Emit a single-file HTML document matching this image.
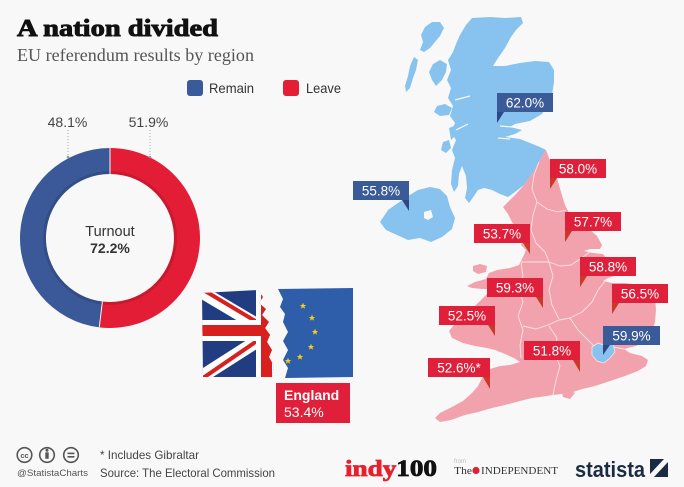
<!DOCTYPE html>
<html>
<head>
<meta charset="utf-8">
<style>
html,body{margin:0;padding:0;background:#f8f8f8;}
svg{display:block;}
</style>
</head>
<body>
<svg width="684" height="487" viewBox="0 0 684 487" xmlns="http://www.w3.org/2000/svg">
<rect width="684" height="487" fill="#f8f8f8"/>

<!-- Title -->
<text x="17" y="36" font-family="Liberation Serif, serif" font-weight="bold" font-size="24" fill="#111" stroke="#111" stroke-width="0.9" textLength="201" lengthAdjust="spacingAndGlyphs">A nation divided</text>
<text x="17" y="61" font-family="Liberation Serif, serif" font-size="17.5" fill="#555" textLength="237" lengthAdjust="spacingAndGlyphs">EU referendum results by region</text>

<!-- Legend -->
<rect x="187" y="80" width="16" height="16" rx="3" fill="#3b5a9a"/>
<text x="209" y="93" font-family="Liberation Sans, sans-serif" font-size="14" fill="#333" textLength="45" lengthAdjust="spacingAndGlyphs">Remain</text>
<rect x="283" y="80" width="16" height="16" rx="3" fill="#e31e36"/>
<text x="306" y="93" font-family="Liberation Sans, sans-serif" font-size="14" fill="#333" textLength="35" lengthAdjust="spacingAndGlyphs">Leave</text>

<!-- Donut -->
<path d="M110,148 A90,90 0 1,1 99.28,327.36 L102.38,301.55 A64,64 0 1,0 110,174 Z" fill="#e41d36"/>
<path d="M99.28,327.36 A90,90 0 0,1 110,148 L110,174 A64,64 0 0,0 102.38,301.55 Z" fill="#3b5999"/>
<circle cx="110" cy="238" r="65.5" fill="none" stroke="rgba(0,0,0,0.12)" stroke-width="3"/>
<circle cx="110" cy="238" r="63.5" fill="#f8f8f8"/>
<line x1="110" y1="148" x2="110" y2="174" stroke="#f8f8f8" stroke-width="1"/>
<line x1="99.28" y1="327.36" x2="102.38" y2="301.55" stroke="#f8f8f8" stroke-width="1"/>
<line x1="68" y1="130" x2="68" y2="157" stroke="#aaa" stroke-width="1" stroke-dasharray="1,2"/>
<line x1="150" y1="130" x2="150" y2="157" stroke="#aaa" stroke-width="1" stroke-dasharray="1,2"/>
<circle cx="68" cy="157" r="1.3" fill="#999"/>
<circle cx="150" cy="157" r="1.3" fill="#999"/>
<text x="67.5" y="127" text-anchor="middle" font-family="Liberation Sans, sans-serif" font-size="14" fill="#444">48.1%</text>
<text x="148.5" y="127" text-anchor="middle" font-family="Liberation Sans, sans-serif" font-size="14" fill="#444">51.9%</text>
<text x="110" y="236" text-anchor="middle" font-family="Liberation Sans, sans-serif" font-size="14.5" fill="#333">Turnout</text>
<text x="110" y="253" text-anchor="middle" font-family="Liberation Sans, sans-serif" font-size="14" font-weight="bold" fill="#333">72.2%</text>

<!-- Flags -->
<defs>
  <clipPath id="ukclip">
    <polygon points="202,293 258,290 263,297 259,303 266,309 262,315 269,322 265,328 270,335 267,342 272,350 269,357 274,366 272,377 203,377"/>
  </clipPath>
  <clipPath id="euclip">
    <polygon points="278,289 353,288 353,377 285,378 288,368 283,360 288,350 283,341 288,332 283,322 285,314 280,307 283,299"/>
  </clipPath>
  <polygon id="star" points="0,-3.2 0.95,-1 3.2,-1 1.4,0.4 2,2.7 0,1.3 -2,2.7 -1.4,0.4 -3.2,-1 -0.95,-1"/>
</defs>
<g clip-path="url(#ukclip)">
  <rect x="200" y="288" width="140" height="92" fill="#213c80"/>
  <line x1="190" y1="285" x2="345" y2="377" stroke="#fff" stroke-width="13"/>
  <line x1="190" y1="384" x2="345" y2="285" stroke="#fff" stroke-width="13"/>
  <line x1="190" y1="282" x2="267" y2="328" stroke="#d8201f" stroke-width="4"/>
  <line x1="190" y1="387" x2="267" y2="334" stroke="#d8201f" stroke-width="4"/>
  <rect x="200" y="320" width="140" height="21" fill="#fff"/>
  <rect x="256" y="288" width="21" height="92" fill="#fff"/>
  <rect x="200" y="325" width="140" height="11" fill="#d8201f"/>
  <rect x="261" y="288" width="11" height="92" fill="#d8201f"/>
</g>
<g clip-path="url(#euclip)">
  <rect x="276" y="286" width="80" height="94" fill="#2e5ea9"/>
</g>
<g fill="#f4cf12">
  <use href="#star" x="303" y="306"/>
  <use href="#star" x="312" y="318"/>
  <use href="#star" x="315" y="332"/>
  <use href="#star" x="311" y="347"/>
  <use href="#star" x="300" y="357"/>
  <use href="#star" x="288" y="361"/>
</g>
<rect x="276" y="383" width="74" height="40" fill="#e0203a"/>
<text x="284" y="400" font-family="Liberation Sans, sans-serif" font-size="14" font-weight="bold" fill="#fff">England</text>
<text x="284" y="417" font-family="Liberation Sans, sans-serif" font-size="14" fill="#fff">53.4%</text>

<!-- Map: Scotland -->
<g fill="#87c3ee">
  <path d="M466,25 L472,18 L490,17 L505,18 L521,17 L523,23 L516,30 L511,37 L505,48 L498,58 L493,66 L505,66 L520,63 L535,61 L549,62 L554,70 L554,82 L552,95 L548,105 L542,114 L530,121 L515,124 L510,127 L522,130 L515,134 L505,137 L520,139 L530,143 L540,147 L546,150 L539,162 L532,174 L524,185 L515,192 L508,197 L500,194 L492,190 L484,188 L478,190 L474,196 L469,203 L465,198 L467,188 L466,176 L462,166 L459,174 L458,186 L454,192 L451,184 L452,170 L455,158 L452,150 L456,140 L451,132 L455,123 L450,116 L453,106 L448,98 L451,88 L447,80 L451,70 L448,60 L453,52 L456,44 L460,35 Z"/>
  <path d="M425,27 L432,22 L440,22 L444,28 L440,36 L435,42 L430,48 L424,52 L420,50 L423,42 L421,35 Z"/>
  <path d="M414,57 L418,60 L416,70 L413,78 L410,88 L406,92 L405,86 L408,76 L410,66 Z"/>
  <path d="M433,64 L440,60 L447,64 L446,72 L442,80 L436,86 L432,80 L429,72 Z"/>
  <path d="M437,106 L445,104 L452,108 L449,115 L440,116 L434,112 Z"/>
  <path d="M443,142 L449,140 L451,148 L446,153 L441,150 Z"/>
  <path d="M449,128 L454,126 L455,136 L451,140 Z"/>
  <path d="M472,158 L476,157 L477,167 L473,168 Z"/>
  <!-- Northern Ireland -->
  <path d="M380,222 L388,210 L398,203 L408,196 L418,190 L430,187 L440,189 L447,196 L450,207 L455,218 L452,229 L442,237 L431,242 L420,238 L408,240 L397,235 L386,230 Z"/>
</g>
<path d="M424,212 L431,210 L433,217 L428,220 L424,218 Z" fill="#f8f8f8"/>
<!-- sea lochs hints -->
<g stroke="#f8f8f8" stroke-width="1.2" fill="none">
  <path d="M500,126 L512,127"/>
  <path d="M498,138 L510,139"/>
  <path d="M455,100 L470,96"/>
  <path d="M456,130 L468,124"/>
</g>

<!-- Map: England & Wales -->
<path fill="#f2a2ac" d="M546,150 L549,158 L553,167 L557,178 L561,192 L565,205 L570,215 L579,222 L589,229 L597,236 L602,245 L600,249 L590,249 L584,251 L593,253 L603,254 L608,260 L612,268 L614,276 L608,278 L603,281 L612,283 L625,283 L640,285 L650,290 L655,298 L656,310 L655,322 L652,332 L645,341 L636,346 L624,349 L630,353 L642,356 L648,360 L646,366 L638,371 L625,376 L610,381 L595,386 L582,389 L570,393 L553,395 L540,397 L532,398 L520,401 L505,405 L492,408 L478,412 L465,415 L451,420 L440,422 L435,418 L440,413 L450,408 L463,401 L472,393 L478,386 L482,378 L490,369 L500,366 L510,365 L520,362 L514,358 L505,354 L495,350 L487,348 L475,346 L463,343 L452,338 L449,331 L454,325 L462,318 L471,310 L479,302 L486,295 L490,289 L482,289 L472,288 L467,286 L475,282 L486,279 L489,273 L497,270 L510,268 L519,265 L523,257 L526,250 L521,245 L524,238 L518,230 L512,222 L508,214 L503,207 L509,201 L516,194 L524,185 L532,174 L539,162 Z"/>
<path fill="#f2a2ac" d="M473,266 L480,264 L487,266 L486,272 L478,274 L473,271 Z"/>
<path fill="#f2a2ac" d="M562,392 L568,390 L575,393 L570,399 L563,397 Z"/>
<g stroke="#fbe3e6" stroke-width="0.9" fill="none" stroke-linejoin="round">
  <path d="M539,162 L534,175 L532,189 L537,202 L547,209 L558,212 L566,210"/>
  <path d="M537,202 L533,215 L531,230 L536,243 L545,252 L549,262"/>
  <path d="M549,262 L560,266 L571,265 L580,259 L590,252"/>
  <path d="M521,262 L533,262 L549,262"/>
  <path d="M521,263 L523,276 L519,289 L523,302 L518,316 L523,330 L520,345 L521,358"/>
  <path d="M549,262 L553,276 L549,290 L552,305 L559,319"/>
  <path d="M606,280 L598,290 L592,302 L582,312 L570,318 L559,320"/>
  <path d="M523,326 L536,329 L548,325 L559,320"/>
  <path d="M549,326 L557,338 L554,352 L560,366 L556,380 L553,395"/>
  <path d="M570,318 L578,330 L588,340 L594,346"/>
  <path d="M613,347 L624,349"/>
</g>
<path d="M592,347 L598,343 L606,346 L613,344 L615,352 L610,358 L604,363 L597,361 L592,355 Z" fill="#87c3ee" stroke="#fbe3e6" stroke-width="0.8"/>

<!-- Map labels -->
<g font-family="Liberation Sans, sans-serif" font-size="13.5" fill="#fff" text-anchor="middle">
  <!-- 62.0 blue left tail -->
  <rect x="497" y="93" width="56" height="19" fill="#3a5a98"/>
  <polygon points="497,112 504,112 497,123" fill="#2b4a84"/>
  <text x="525" y="107.5">62.0%</text>
  <!-- 55.8 blue right tail -->
  <rect x="353" y="181" width="56" height="19" fill="#3a5a98"/>
  <polygon points="402,200 409,200 409,211" fill="#2b4a84"/>
  <text x="381" y="195.5">55.8%</text>
  <!-- 58.0 -->
  <rect x="550" y="159" width="56" height="19" fill="#e0203a"/>
  <polygon points="550,178 557,178 550,189" fill="#c8392b"/>
  <text x="578" y="173.5">58.0%</text>
  <!-- 57.7 -->
  <rect x="565" y="212" width="56" height="19" fill="#e0203a"/>
  <polygon points="565,231 572,231 565,242" fill="#c8392b"/>
  <text x="593" y="226.5">57.7%</text>
  <!-- 53.7 right -->
  <rect x="474" y="224" width="56" height="19" fill="#e0203a"/>
  <polygon points="523,243 530,243 530,254" fill="#c8392b"/>
  <text x="502" y="238.5">53.7%</text>
  <!-- 58.8 -->
  <rect x="580" y="257" width="56" height="19" fill="#e0203a"/>
  <polygon points="580,276 587,276 580,287" fill="#c8392b"/>
  <text x="608" y="271.5">58.8%</text>
  <!-- 59.3 right -->
  <rect x="487" y="278" width="56" height="19" fill="#e0203a"/>
  <polygon points="536,297 543,297 543,308" fill="#c8392b"/>
  <text x="515" y="292.5">59.3%</text>
  <!-- 56.5 -->
  <rect x="612" y="284" width="56" height="19" fill="#e0203a"/>
  <polygon points="612,303 619,303 612,314" fill="#c8392b"/>
  <text x="640" y="298.5">56.5%</text>
  <!-- 52.5 right -->
  <rect x="439" y="306" width="56" height="19" fill="#e0203a"/>
  <polygon points="488,325 495,325 495,336" fill="#c8392b"/>
  <text x="467" y="320.5">52.5%</text>
  <!-- 59.9 blue -->
  <rect x="603" y="326" width="57" height="19" fill="#3a5a98"/>
  <polygon points="603,345 610,345 603,355" fill="#2b4a84"/>
  <text x="631.5" y="340.5">59.9%</text>
  <!-- 51.8 right -->
  <rect x="524" y="341" width="56" height="19" fill="#e0203a"/>
  <polygon points="573,360 580,360 580,372" fill="#c8392b"/>
  <text x="552" y="355.5">51.8%</text>
  <!-- 52.6* right -->
  <rect x="428" y="358" width="62" height="19" fill="#e0203a"/>
  <polygon points="483,377 490,377 490,389" fill="#c8392b"/>
  <text x="459" y="372.5">52.6%*</text>
</g>

<!-- Footer -->
<g fill="none" stroke="#555" stroke-width="1.6">
  <circle cx="24.5" cy="455" r="7.3"/>
  <circle cx="47" cy="455" r="7.3"/>
  <circle cx="71" cy="455" r="7.3"/>
</g>
<text x="24.5" y="457.8" text-anchor="middle" font-family="Liberation Sans, sans-serif" font-size="7.5" font-weight="bold" fill="#555">cc</text>
<circle cx="47" cy="450.3" r="1.5" fill="#555"/>
<rect x="45.3" y="452.3" width="3.4" height="6.5" fill="#555"/>
<rect x="67.5" y="452.6" width="7" height="1.6" fill="#555"/>
<rect x="67.5" y="456" width="7" height="1.6" fill="#555"/>
<text x="17" y="476" font-family="Liberation Sans, sans-serif" font-size="9.5" fill="#555" textLength="71" lengthAdjust="spacingAndGlyphs">@StatistaCharts</text>
<text x="100" y="459" font-family="Liberation Sans, sans-serif" font-size="12" fill="#444" textLength="99" lengthAdjust="spacingAndGlyphs">* Includes Gibraltar</text>
<text x="100" y="477" font-family="Liberation Sans, sans-serif" font-size="12" fill="#444" textLength="175" lengthAdjust="spacingAndGlyphs">Source: The Electoral Commission</text>

<text x="345" y="476" font-family="Liberation Serif, serif" font-weight="bold" font-size="23" stroke-width="0.8" textLength="92" lengthAdjust="spacingAndGlyphs"><tspan fill="#e8202e" stroke="#e8202e">indy</tspan><tspan fill="#111" stroke="#111">100</tspan></text>

<text x="454" y="463" font-family="Liberation Sans, sans-serif" font-size="6" fill="#bbb">from</text>
<text x="454" y="474" font-family="Liberation Serif, serif" font-size="10" fill="#333" textLength="18" lengthAdjust="spacingAndGlyphs">The</text>
<circle cx="476" cy="470.5" r="3.6" fill="#e0203a"/>
<text x="481" y="474" font-family="Liberation Serif, serif" font-size="10" fill="#333" textLength="77" lengthAdjust="spacingAndGlyphs">INDEPENDENT</text>

<text x="575" y="477" font-family="Liberation Sans, sans-serif" font-weight="bold" font-size="22" fill="#1b2b42" textLength="70" lengthAdjust="spacingAndGlyphs">statista</text>
<rect x="650" y="459" width="18" height="18" fill="#1b2b42"/>
<polygon points="650,474 664,459 668,459 668,462 654,477 650,477" fill="#f8f8f8"/>
</svg>
</body>
</html>
